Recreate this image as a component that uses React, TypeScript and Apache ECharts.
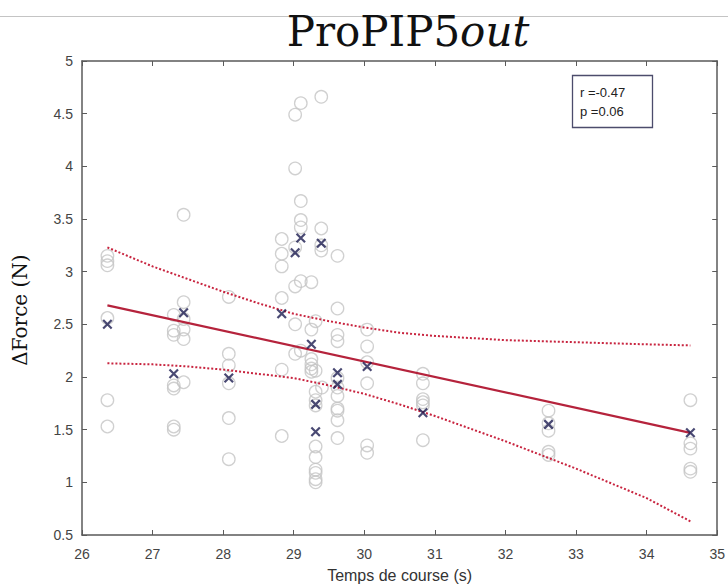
import React, { useEffect, useRef } from "react";
import * as echarts from "echarts";

// Individual trials (open gray circles): [time (s), ΔForce (N)]
const trialPoints: number[][] = [
  [26.36, 3.15], [26.36, 3.10], [26.36, 3.06], [26.36, 2.56], [26.36, 1.78], [26.36, 1.53],
  [27.30, 2.59], [27.30, 2.44], [27.30, 2.40], [27.30, 1.92], [27.30, 1.89], [27.30, 1.53], [27.30, 1.50],
  [27.44, 3.54], [27.44, 2.71], [27.44, 2.55], [27.44, 2.45], [27.44, 2.36], [27.44, 1.95],
  [28.08, 2.76], [28.08, 2.22], [28.08, 2.11], [28.08, 1.94], [28.08, 1.61], [28.08, 1.22],
  [28.83, 3.31], [28.83, 3.17], [28.83, 3.05], [28.83, 2.75], [28.83, 2.07], [28.83, 1.44],
  [29.02, 4.49], [29.02, 3.98], [29.02, 3.23], [29.02, 2.86], [29.02, 2.50], [29.02, 2.22],
  [29.10, 4.60], [29.10, 3.67], [29.10, 3.49], [29.10, 3.42], [29.10, 2.91], [29.10, 2.25],
  [29.25, 2.90], [29.25, 2.45], [29.25, 2.17], [29.25, 2.12], [29.25, 2.08], [29.25, 2.05],
  [29.31, 2.53], [29.31, 2.06], [29.31, 1.86], [29.31, 1.78], [29.31, 1.73], [29.31, 1.34],
  [29.31, 1.24], [29.31, 1.12], [29.31, 1.09], [29.31, 1.03], [29.31, 1.00],
  [29.39, 4.66], [29.39, 3.41], [29.39, 3.25], [29.39, 3.20], [29.40, 1.90],
  [29.62, 3.15], [29.62, 2.65], [29.62, 2.40], [29.62, 2.34], [29.62, 1.99], [29.62, 1.90],
  [29.62, 1.82], [29.62, 1.70], [29.62, 1.68], [29.62, 1.59], [29.62, 1.42],
  [30.04, 2.45], [30.04, 2.29], [30.04, 2.14], [30.04, 1.94], [30.04, 1.35], [30.04, 1.28],
  [30.83, 2.03], [30.83, 1.94], [30.83, 1.79], [30.83, 1.76], [30.83, 1.73], [30.83, 1.40],
  [32.61, 1.68], [32.61, 1.56], [32.61, 1.49], [32.61, 1.29], [32.61, 1.26],
  [34.62, 1.78], [34.62, 1.37], [34.62, 1.32], [34.62, 1.13], [34.62, 1.10],
];

// Subject means (dark crosses)
const meanPoints: number[][] = [
  [26.36, 2.50], [27.30, 2.03], [27.44, 2.61], [28.08, 1.99], [28.83, 2.60],
  [29.02, 3.18], [29.10, 3.32], [29.25, 2.31], [29.31, 1.74], [29.31, 1.48],
  [29.39, 3.27], [29.62, 2.04], [29.62, 1.93], [30.04, 2.10], [30.83, 1.66],
  [32.61, 1.55], [34.62, 1.47],
];

// Regression line
const fitLine: number[][] = [[26.36, 2.68], [34.62, 1.47]];

// Confidence band
const ciX = [26.36, 27, 27.5, 28, 28.5, 29, 29.5, 30, 30.5, 31, 31.5, 32, 32.5, 33, 33.5, 34, 34.62];
const ciUpper = [3.23, 3.05, 2.93, 2.81, 2.70, 2.60, 2.53, 2.47, 2.42, 2.39, 2.37, 2.35, 2.34, 2.33, 2.32, 2.31, 2.30];
const ciLower = [2.13, 2.12, 2.10, 2.07, 2.03, 1.99, 1.92, 1.84, 1.74, 1.63, 1.51, 1.39, 1.26, 1.13, 0.99, 0.85, 0.63];

const statLines = ["r =-0.47", "p =0.06"];

export default function App() {
  const ref = useRef<HTMLDivElement>(null);
  useEffect(() => {
    if (!ref.current) return;
    const chart = echarts.init(ref.current, null, { renderer: "svg" });
    const axisColor = "#5a5a5a";
    const labelStyle = { color: "#444", fontFamily: "Liberation Sans, Arial", fontSize: 14 };
    const upper = ciX.map((x, i) => [x, ciUpper[i]]);
    const lower = ciX.map((x, i) => [x, ciLower[i]]);
    chart.setOption({
      animation: false,
      backgroundColor: "#ffffff",
      grid: { left: 82, right: 8, top: 61, bottom: 49 },
      xAxis: [
        {
          type: "value", min: 26, max: 35, interval: 1, position: "bottom",
          name: "Temps de course (s)", nameLocation: "middle", nameGap: 32,
          nameTextStyle: { color: "#333", fontFamily: "Liberation Sans, Arial", fontSize: 16 },
          axisLine: { show: true, onZero: false, lineStyle: { color: axisColor, width: 1.5 } },
          axisTick: { show: true, inside: true, length: 5, lineStyle: { color: axisColor } },
          axisLabel: { ...labelStyle, margin: 12 },
          splitLine: { show: false },
        },
        {
          type: "value", min: 26, max: 35, interval: 1, position: "top",
          axisLine: { show: true, onZero: false, lineStyle: { color: axisColor, width: 1.5 } },
          axisTick: { show: true, inside: true, length: 5, lineStyle: { color: axisColor } },
          axisLabel: { show: false },
          splitLine: { show: false },
        },
      ],
      yAxis: [
        {
          type: "value", min: 0.5, max: 5, interval: 0.5, position: "left",
          axisLine: { show: true, onZero: false, lineStyle: { color: axisColor, width: 1.5 } },
          axisTick: { show: true, inside: true, length: 5, lineStyle: { color: axisColor } },
          axisLabel: { ...labelStyle, margin: 9 },
          splitLine: { show: false },
        },
        {
          type: "value", min: 0.5, max: 5, interval: 0.5, position: "right",
          axisLine: { show: true, onZero: false, lineStyle: { color: axisColor, width: 1.5 } },
          axisTick: { show: true, inside: true, length: 5, lineStyle: { color: axisColor } },
          axisLabel: { show: false },
          splitLine: { show: false },
        },
      ],
      series: [
        {
          type: "scatter", data: trialPoints, symbol: "circle", symbolSize: 12.5,
          itemStyle: { color: "rgba(0,0,0,0)", borderColor: "#c4c4c4", borderWidth: 1.3 },
          z: 2,
        },
        {
          type: "line", data: upper, smooth: false, showSymbol: false, symbol: "none",
          lineStyle: { color: "#c8243f", width: 2, type: [2, 2] }, z: 3,
        },
        {
          type: "line", data: lower, smooth: false, showSymbol: false, symbol: "none",
          lineStyle: { color: "#c8243f", width: 2, type: [2, 2] }, z: 3,
        },
        {
          type: "line", data: fitLine, showSymbol: false, symbol: "none",
          lineStyle: { color: "#b5233c", width: 2.2 }, z: 4,
        },
        {
          type: "scatter", data: meanPoints, symbol: "path://M0,0L10,10M10,0L0,10", symbolSize: 8.5,
          itemStyle: { color: "rgba(0,0,0,0)", borderColor: "#1c1c50", borderWidth: 2.2 },
          z: 5,
        },
      ],
      graphic: [
        { type: "line", shape: { x1: 0, y1: 16.5, x2: 728, y2: 16.5 }, style: { stroke: "#c4c4c4", lineWidth: 1 }, z: 0 },
        {
          type: "text", x: 408, y: 52,
          style: {
            text: "{a|ProPIP5}{b|out}",
            textAlign: "center", textVerticalAlign: "bottom",
            rich: {
              a: { fontFamily: "DejaVu Serif", fontSize: 42, fill: "#111" },
              b: { fontFamily: "DejaVu Serif", fontSize: 42, fontStyle: "italic", fill: "#111" },
            },
          },
          z: 10,
        },
        {
          type: "text", x: 20, y: 310, rotation: Math.PI / 2,
          style: {
            text: "ΔForce (N)", fontFamily: "DejaVu Serif", fontSize: 20, fill: "#111",
            textAlign: "center", textVerticalAlign: "middle",
          },
        },
        {
          type: "rect", shape: { x: 572.5, y: 75.5, width: 80, height: 52 },
          style: { fill: "#fff", stroke: "#4c4c6c", lineWidth: 1.3 }, z: 10,
        },
        {
          type: "text", x: 580, y: 92,
          style: { text: statLines[0], fontFamily: "Liberation Sans, Arial", fontSize: 13, fill: "#222", textVerticalAlign: "middle" },
          z: 11,
        },
        {
          type: "text", x: 580, y: 111,
          style: { text: statLines[1], fontFamily: "Liberation Sans, Arial", fontSize: 13, fill: "#222", textVerticalAlign: "middle" },
          z: 11,
        },
      ],
    });
    return () => chart.dispose();
  }, []);
  return (
    <div
      ref={ref}
      style={{ position: "fixed", left: 0, top: 0, width: 728, height: 588, background: "#fff" }}
    />
  );
}
